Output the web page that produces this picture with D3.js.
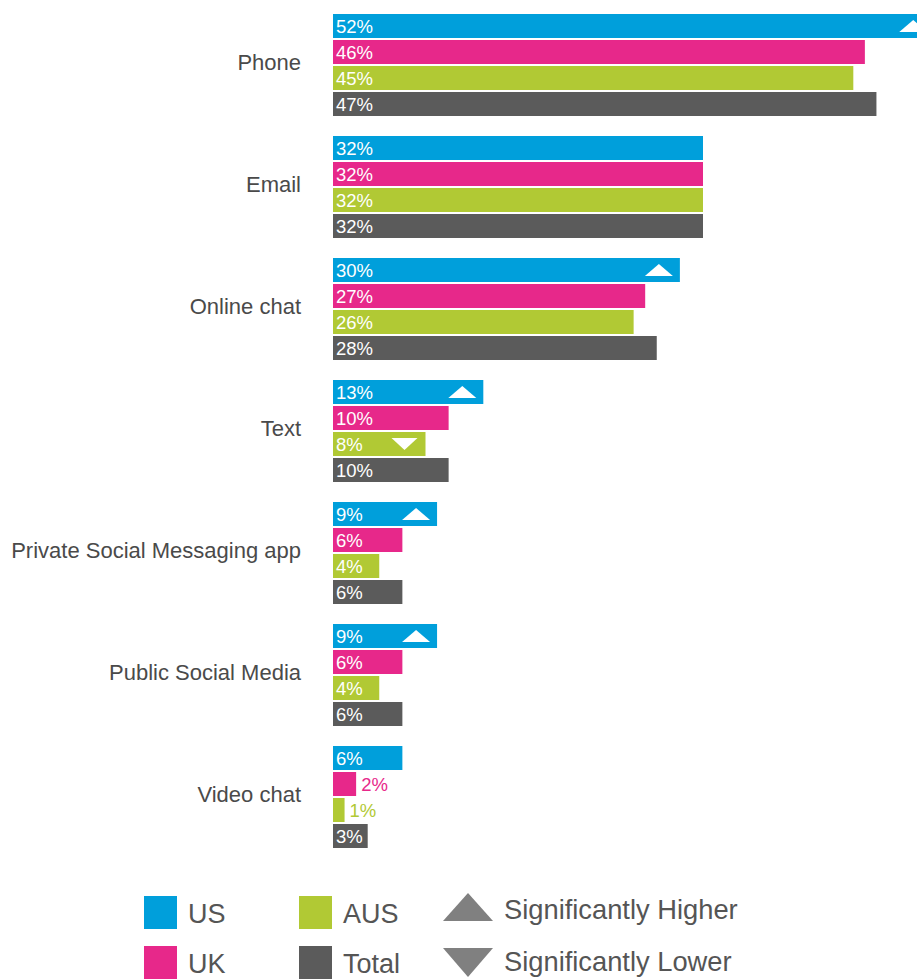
<!DOCTYPE html>
<html>
<head>
<meta charset="utf-8">
<script src="https://cdn.jsdelivr.net/npm/d3@7"></script>
<style>
  html, body { margin: 0; padding: 0; background: #fff; }
  svg { display: block; }
  text { font-family: "Liberation Sans", Arial, Helvetica, sans-serif; }
</style>
</head>
<body>
<svg id="chart" width="917" height="979"></svg>
<script>
// Preferred contact channels, % by market
const categories = ["Phone", "Email", "Online chat", "Text",
  "Private Social Messaging app", "Public Social Media", "Video chat"];
const series = ["US", "UK", "AUS", "Total"];
const usValues    = [52, 32, 30, 13, 9, 9, 6];
const ukValues    = [46, 32, 27, 10, 6, 6, 2];
const ausValues   = [45, 32, 26, 8, 4, 4, 1];
const totalValues = [47, 32, 28, 10, 6, 6, 3];
const colors = ["#009fdb", "#e7288a", "#b1c934", "#5b5b5b"];
// Significance flags: [category, series]
const sigHigher = [["Phone", "US"], ["Online chat", "US"], ["Text", "US"],
  ["Private Social Messaging app", "US"], ["Public Social Media", "US"]];
const sigLower = [["Text", "AUS"]];
const legendSig = ["Significantly Higher", "Significantly Lower"];

const valuesBySeries = [usValues, ukValues, ausValues, totalValues];
const rows = [];
categories.forEach((c, i) => series.forEach((s, j) => {
  rows.push({ category: c, series: s, value: valuesBySeries[j][i], color: colors[j] });
}));
const flag = (list, r) => list.some(([c, s]) => c === r.category && s === r.series);

const svg = d3.select("#chart");

const x = d3.scaleLinear().domain([0, 100]).range([333, 1489.25]);
const y0 = d3.scaleBand().domain(categories).range([14, 848]).paddingInner(20 / 122).paddingOuter(0);
const y1 = d3.scaleBand().domain(series).range([0, y0.bandwidth()]).paddingInner(2 / 26).paddingOuter(0);

// Category labels
svg.append("g").selectAll("text").data(categories).join("text")
  .attr("x", 301)
  .attr("y", d => y0(d) + y0.bandwidth() / 2 + 5)
  .attr("text-anchor", "end")
  .attr("font-size", 22)
  .attr("fill", "#4a4a4a")
  .text(d => d);

const bars = svg.append("g").selectAll("g").data(rows).join("g")
  .attr("transform", d => `translate(0,${y0(d.category) + y1(d.series)})`);

bars.append("rect")
  .attr("x", x(0))
  .attr("y", 0)
  .attr("width", d => x(d.value) - x(0))
  .attr("height", y1.bandwidth())
  .attr("fill", d => d.color);

// Value labels: inside in white, outside in bar colour when too short
bars.append("text")
  .attr("x", d => d.value < 3 ? x(d.value) + 5 : x(0) + 3)
  .attr("y", y1.bandwidth() / 2 + 6.5)
  .attr("font-size", 18.5)
  .attr("fill", d => d.value < 3 ? d.color : "#fff")
  .text(d => d.value + "%");

// Significance triangles inside bars
const tw = 28, th = 12;
bars.filter(d => flag(sigHigher, d)).append("path")
  .attr("fill", "#fff")
  .attr("d", d => {
    const r = x(d.value) - 7, l = r - tw, cy = y1.bandwidth() / 2;
    return `M${l},${cy + th / 2}L${r},${cy + th / 2}L${(l + r) / 2},${cy - th / 2}Z`;
  });
bars.filter(d => flag(sigLower, d)).append("path")
  .attr("fill", "#fff")
  .attr("d", d => {
    const r = x(d.value) - 8, l = r - 26, cy = y1.bandwidth() / 2;
    return `M${l},${cy - th / 2}L${r},${cy - th / 2}L${(l + r) / 2},${cy + th / 2}Z`;
  });

// Legend
const legend = svg.append("g");
const legendPos = [[144, 896], [144, 946], [299, 896], [299, 946]];
series.forEach((s, i) => {
  const [lx, ly] = legendPos[i];
  legend.append("rect").attr("x", lx).attr("y", ly).attr("width", 33).attr("height", 33).attr("fill", colors[i]);
  legend.append("text").attr("x", lx + 44).attr("y", ly + 27)
    .attr("font-size", 27).attr("fill", "#555").text(s);
});
legend.append("path").attr("fill", "#808080").attr("d", "M443,921L493,921L468,893Z");
legend.append("path").attr("fill", "#808080").attr("d", "M443,948L493,948L468,977Z");
legend.append("text").attr("x", 504).attr("y", 919).attr("font-size", 27.3).attr("fill", "#555").text(legendSig[0]);
legend.append("text").attr("x", 504).attr("y", 971).attr("font-size", 27.3).attr("fill", "#555").text(legendSig[1]);
</script>
</body>
</html>
